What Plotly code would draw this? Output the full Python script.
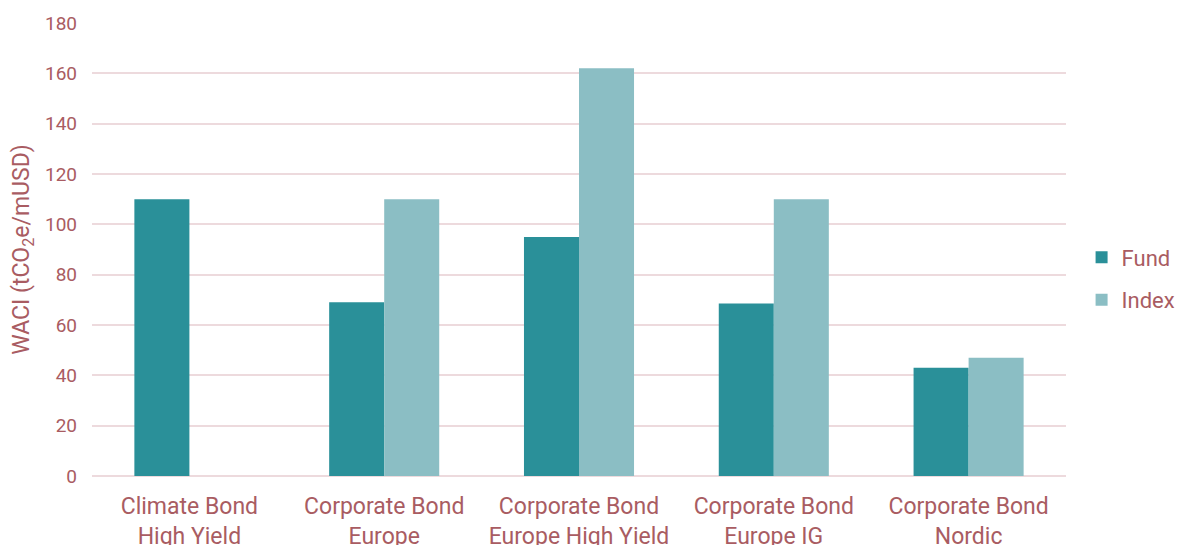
import plotly.graph_objects as go

categories = ["Climate Bond<br>High Yield", "Corporate Bond<br>Europe", "Corporate Bond<br>Europe High Yield",
              "Corporate Bond<br>Europe IG", "Corporate Bond<br>Nordic"]
fund = [110, 69, 95, 68.5, 43]
index = [None, 110, 162, 110, 47]
y_ticks = [0, 20, 40, 60, 80, 100, 120, 140, 160, 180]

text_color = "#a95c62"
fund_color = "#2a9099"
index_color = "#8bbec4"
grid_color = "#eddadd"

fig = go.Figure()
fig.add_trace(go.Bar(name="Fund", x=categories, y=fund, legendgroup="f",
                     marker=dict(color=fund_color, line=dict(width=0))))
fig.add_trace(go.Bar(name="Index", x=categories, y=index, legendgroup="i",
                     marker=dict(color=index_color, line=dict(width=0))))

fig.update_layout(
    width=1187, height=545,
    margin=dict(l=84, r=129, t=15, b=77, autoexpand=False),
    paper_bgcolor="white", plot_bgcolor="white",
    barmode="group", bargap=0.435, bargroupgap=0,
    font=dict(family="Roboto", color=text_color, size=19),
    legend=dict(x=1.016, y=0.435, yanchor="middle", xanchor="left", traceorder="grouped",
                font=dict(size=22, color=text_color), tracegroupgap=11, itemwidth=30),
    showlegend=True,
)
fig.update_xaxes(tickfont=dict(size=23, color=text_color), showgrid=False, showline=False, ticks="",
                 ticklabelstandoff=14)
fig.update_yaxes(range=[0, 180], tickvals=y_ticks, showgrid=True, gridcolor=grid_color, gridwidth=1.5,
                 zeroline=True, zerolinecolor=grid_color, zerolinewidth=1.5,
                 tickfont=dict(size=19, color=text_color), ticklabelstandoff=14,
                 title=dict(text="WACI (tCO<sub>2</sub>e/mUSD)", font=dict(size=23, color=text_color), standoff=14))

fig.write_html("out.html")
